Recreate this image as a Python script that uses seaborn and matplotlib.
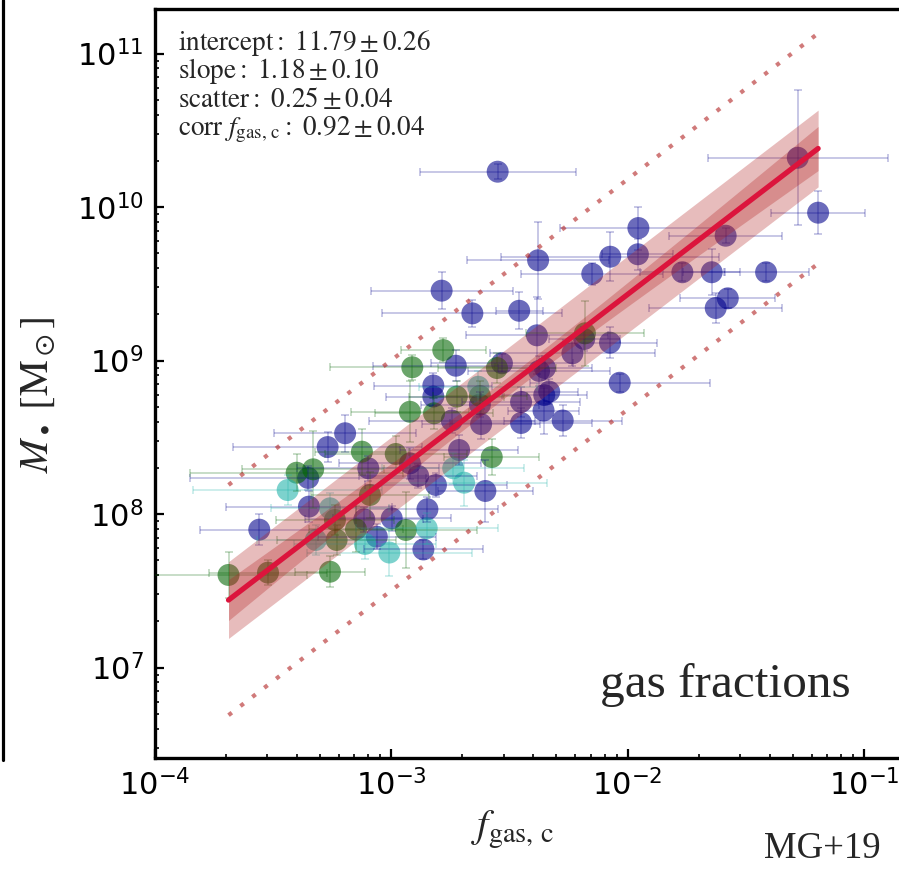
import numpy as np
import pandas as pd
import matplotlib
matplotlib.use("Agg")
import matplotlib.pyplot as plt
import seaborn as sns
from matplotlib.lines import Line2D

# ---------------- data (log10 values) ----------------
blue_logf = [-2.549, -1.280, -1.194, -1.954, -1.585, -2.073, -1.956, -2.149, -1.768, -1.644,
             -1.414, -1.576, -1.627, -2.786, -2.656, -2.458, -2.383, -2.183, -2.074, -2.233,
             -2.531, -2.726, -2.374, -2.349, -2.033, -2.821, -2.821, -2.624, -2.450, -2.352,
             -2.331, -2.355, -2.274, -2.450, -2.619, -2.743, -3.194, -3.268, -3.096, -2.920,
             -2.885, -3.350, -2.712, -2.810, -2.601, -3.347, -3.113, -2.997, -2.846, -3.557,
             -3.060, -2.863, -2.378]
blue_logm = [10.230, 10.321, 9.963, 9.863, 9.813, 9.676, 9.692, 9.564, 9.575, 9.575,
             9.575, 9.405, 9.342, 9.455, 9.307, 9.324, 9.164, 9.140, 9.116, 9.047,
             8.982, 8.966, 8.932, 8.951, 8.855, 8.837, 8.765, 8.713, 8.730, 8.775,
             8.797, 8.674, 8.609, 8.593, 8.586, 8.609, 8.526, 8.436, 8.298, 8.330,
             8.248, 8.235, 8.417, 8.189, 8.150, 8.048, 7.965, 7.972, 8.031, 7.898,
             7.852, 7.769, 9.653]
blue_xerr = [0.33, 0.38, 0.20, 0.33, 0.24, 0.46, 0.15, 0.30, 0.18, 0.12,
             0.18, 0.20, 0.28, 0.30, 0.38, 0.10, 0.30, 0.15, 0.20, 0.35,
             0.30, 0.35, 0.30, 0.20, 0.38, 0.25, 0.20, 0.25, 0.25, 0.18,
             0.12, 0.15, 0.25, 0.30, 0.25, 0.35, 0.30, 0.40, 0.30, 0.30,
             0.25, 0.50, 0.25, 0.30, 0.20, 0.35, 0.25, 0.25, 0.30, 0.25,
             0.25, 0.25, 0.30]
blue_yerr = [0.05, 0.44, 0.14, 0.14, 0.05, 0.16, 0.10, 0.07, 0.06, 0.15,
             0.06, 0.06, 0.10, 0.12, 0.09, 0.12, 0.25, 0.08, 0.10, 0.08,
             0.06, 0.10, 0.10, 0.08, 0.06, 0.08, 0.06, 0.08, 0.10, 0.06,
             0.08, 0.15, 0.10, 0.10, 0.10, 0.08, 0.12, 0.10, 0.08, 0.10,
             0.08, 0.08, 0.10, 0.08, 0.20, 0.10, 0.08, 0.08, 0.08, 0.10,
             0.08, 0.06, 0.25]

green_logf = [-3.687, -3.520, -3.258, -2.937, -3.230, -3.148, -3.237, -3.089, -2.980, -3.123,
              -3.399, -3.329, -2.920, -2.818, -2.910, -2.779, -2.722, -2.552, -2.574, -2.180,
              -2.624]
green_logm = [7.603, 7.618, 7.624, 7.896, 7.831, 7.900, 7.961, 8.124, 8.391, 8.406,
              8.269, 8.291, 8.666, 8.656, 8.956, 9.068, 8.765, 8.951, 8.371, 9.177,
              8.769]
green_xerr = [0.33, 0.25, 0.15, 0.30, 0.25, 0.20, 0.25, 0.25, 0.30, 0.20,
              0.45, 0.30, 0.25, 0.25, 0.35, 0.18, 0.20, 0.25, 0.20, 0.25,
              0.20]
green_yerr = [0.15, 0.08, 0.10, 0.25, 0.10, 0.15, 0.10, 0.15, 0.12, 0.15,
              0.12, 0.25, 0.20, 0.10, 0.08, 0.08, 0.10, 0.10, 0.12, 0.21,
              0.10]

teal_logf = [-3.437, -3.258, -3.318, -3.110, -3.007, -2.849, -2.737, -2.691, -2.631]
teal_logm = [8.156, 8.037, 7.831, 7.805, 7.749, 7.907, 8.298, 8.204, 8.829]
teal_xerr = [0.40, 0.25, 0.25, 0.30, 0.35, 0.30, 0.30, 0.35, 0.25]
teal_yerr = [0.10, 0.10, 0.10, 0.10, 0.15, 0.10, 0.10, 0.15, 0.10]

# fit parameters
intercept, intercept_err = 11.79, 0.26
slope, slope_err = 1.18, 0.10
scatter, scatter_err = 0.25, 0.04
corr, corr_err = 0.92, 0.04
fit_pivot, fit_pivot_err = -2.5, 0.06

sample_colors = {"blue": "darkblue", "green": "darkgreen", "teal": "lightseagreen"}

# ---------------- figure ----------------
sns.set_style("ticks")
plt.rcParams["font.family"] = ["DejaVu Sans"]

W, H = 899, 871
fig = plt.figure(figsize=(W / 100, H / 100), dpi=100)
ax_left, ax_right, ax_top, ax_bot = 154.5, 923.0, 9.0, 757.7
ax = fig.add_axes([ax_left / W, 1 - ax_bot / H, (ax_right - ax_left) / W, (ax_bot - ax_top) / H])
ax.set_xscale("log")
ax.set_yscale("log")

frames = []
for name, lf, lm, xe, ye in [("blue", blue_logf, blue_logm, blue_xerr, blue_yerr),
                             ("green", green_logf, green_logm, green_xerr, green_yerr),
                             ("teal", teal_logf, teal_logm, teal_xerr, teal_yerr)]:
    frames.append(pd.DataFrame({"sample": name, "logf": lf, "logm": lm, "xe": xe, "ye": ye}))
df = pd.concat(frames, ignore_index=True)
df["fgas"] = 10 ** df["logf"]
df["mbh"] = 10 ** df["logm"]

sns.scatterplot(data=df, x="fgas", y="mbh", hue="sample", palette=sample_colors,
                s=250, alpha=0.58, edgecolor="none", linewidth=0, legend=False,
                ax=ax, zorder=2)

for name, sub in df.groupby("sample"):
    x, y = sub["fgas"].values, sub["mbh"].values
    xe, ye = sub["xe"].values, sub["ye"].values
    ax.errorbar(x, y,
                xerr=[x - x * 10 ** (-xe), x * 10 ** xe - x],
                yerr=[y - y * 10 ** (-ye), y * 10 ** ye - y],
                fmt="none", ecolor=sample_colors[name], alpha=0.22,
                elinewidth=1.4, capsize=3.2, capthick=1.4, zorder=3)

lx = np.linspace(df["logf"].min(), df["logf"].max(), 200)
ly = intercept + slope * lx
inner = np.sqrt(fit_pivot_err ** 2 + (slope_err * (lx - fit_pivot)) ** 2)
xf = 10 ** lx
ax.fill_between(xf, 10 ** (ly - scatter), 10 ** (ly + scatter), color="firebrick",
                alpha=0.3, lw=0, zorder=4)
ax.fill_between(xf, 10 ** (ly - inner), 10 ** (ly + inner), color="firebrick",
                alpha=0.3, lw=0, zorder=4)
for sgn in (-1, 1):
    ax.plot(xf, 10 ** (ly + sgn * 3 * scatter), color="firebrick", alpha=0.6, lw=3.0,
            ls=(0, (1, 2.6)), zorder=5)
ax.plot(xf, 10 ** ly, color="crimson", lw=3.8, zorder=6)

ax.set_xlim(1e-4, 10 ** (-4 + (ax_right - ax_left) / 236.5))
ax.set_ylim(10 ** (10 - (ax_bot - 207) / 153.5), 10 ** (10 + (207 - ax_top) / 153.5))
ax.set_xlabel("")
ax.set_ylabel("")

for sp in ax.spines.values():
    sp.set_linewidth(2.4)
    sp.set_color("black")
ax.tick_params(which="both", direction="in", top=False, right=False, labelsize=22, pad=8,
               colors="black")
ax.tick_params(which="major", length=6.5, width=1.6)
ax.tick_params(which="minor", length=3.2, width=1.2)

# ---------------- text ----------------
serif = "Liberation Serif"
lines = [
    rf"$\mathrm{{intercept}}:\ {intercept:.2f}\pm{intercept_err:.2f}$",
    rf"$\mathrm{{slope}}:\ {slope:.2f}\pm{slope_err:.2f}$",
    rf"$\mathrm{{scatter}}:\ {scatter:.2f}\pm{scatter_err:.2f}$",
    rf"$\mathrm{{corr}}\ f_{{\rm gas,\,c}}:\ {corr:.2f}\pm{corr_err:.2f}$",
]
for i, s in enumerate(lines):
    fig.text(178 / W, 1 - (50 + 28.5 * i) / H, s, fontsize=19.5, va="baseline", ha="left",
             math_fontfamily="stix", family=serif)

fig.text(38 / W, 1 - 395 / H, r"$M_\bullet\ [\mathrm{M}_\odot]$", rotation=90,
         fontsize=29, ha="center", va="center", math_fontfamily="stix", family=serif)
fig.text(512 / W, 1 - 838 / H, r"$f_{\rm gas,\,c}$", fontsize=29, ha="center",
         va="baseline", math_fontfamily="stix", family=serif)
fig.text(725 / W, 1 - 697 / H, "gas fractions", fontsize=35.5, ha="center", va="baseline",
         family=serif)
fig.text(822 / W, 1 - 858 / H, "MG+19", fontsize=26.5, ha="center", va="baseline",
         family=serif)

fig.add_artist(Line2D([3 / W, 3 / W], [1, 1 - 760 / H], color="black", lw=2.3,
                      transform=fig.transFigure))

fig.savefig("out.png", dpi=100)
